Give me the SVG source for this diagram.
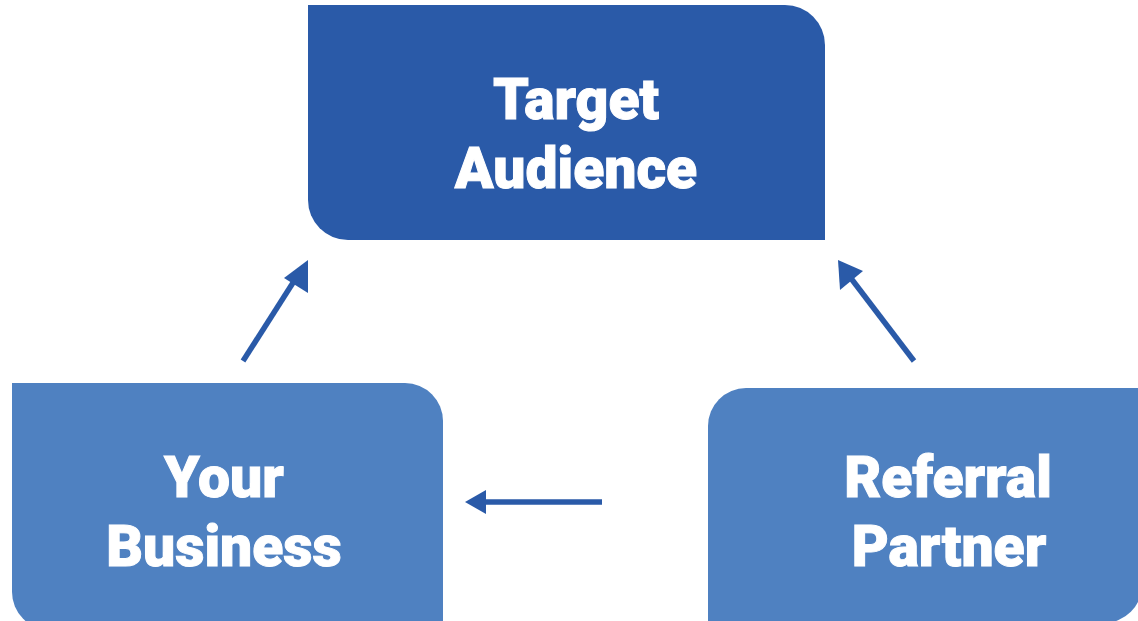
<svg xmlns="http://www.w3.org/2000/svg" width="1138" height="621" viewBox="0 0 1138 621">
  <defs>
    <style>
      .label { font-family: Roboto, "Liberation Sans", sans-serif; font-weight: 900; font-size: 57px; fill: #ffffff; stroke: #ffffff; stroke-width: 1; text-anchor: middle; }
      .dark { fill: #2a5aa8; }
      .light { fill: #4f81c1; }
      .conn { stroke: #2a5aa8; stroke-width: 5.5; fill: none; }
      .head { fill: #2a5aa8; }
    </style>
  </defs>
  <rect width="1138" height="621" fill="#ffffff"/>

  <!-- Target Audience: top-right and bottom-left corners rounded -->
  <g id="target-audience">
    <path class="dark" d="M308 5 H785 A40 40 0 0 1 825 45 V240 H348 A40 40 0 0 1 308 200 Z"/>
    <text class="label" x="576" y="119">Target</text>
    <text class="label" x="576" y="188">Audience</text>
  </g>

  <!-- Your Business -->
  <g id="your-business">
    <path class="light" d="M12 383 H405 A38 38 0 0 1 443 421 V630 H50 A38 38 0 0 1 12 592 Z"/>
    <text class="label" x="224" y="497">Your</text>
    <text class="label" x="224" y="566">Business</text>
  </g>

  <!-- Referral Partner -->
  <g id="referral-partner">
    <path class="light" d="M746 388 H1142 V585 A38 38 0 0 1 1104 623 H708 V426 A38 38 0 0 1 746 388 Z"/>
    <text class="label" x="948" y="497">Referral</text>
    <text class="label" x="949" y="566">Partner</text>
  </g>

  <g id="connectors">
    <!-- Your Business to Target Audience -->
    <line class="conn" x1="243" y1="361" x2="296" y2="278"/>
    <polygon class="head" points="308,260 308,293 284,278"/>
    <!-- Referral Partner to Target Audience -->
    <line class="conn" x1="914" y1="361" x2="850" y2="277"/>
    <polygon class="head" points="838,260 863,271 840,290"/>
    <!-- Referral Partner to Your Business -->
    <line class="conn" x1="602" y1="502" x2="482" y2="502"/>
    <polygon class="head" points="465,502 486,490 486,514"/>
  </g>
</svg>
